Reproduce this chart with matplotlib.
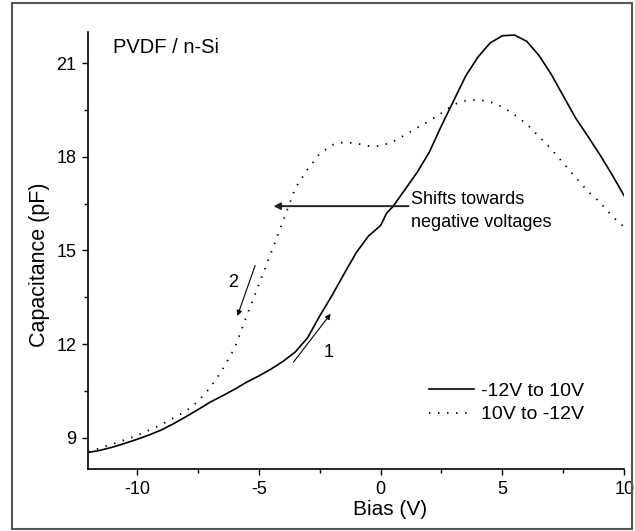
import matplotlib
matplotlib.use("Agg")
import matplotlib.pyplot as plt
from matplotlib.patches import Rectangle
from matplotlib.ticker import MultipleLocator

plt.rcParams['font.family'] = ['Liberation Sans', 'DejaVu Sans']
plt.rcParams['axes.unicode_minus'] = False

# Forward sweep (-12V to 10V)
bias_fwd = [-12, -11.5, -11, -10.5, -10, -9.5, -9, -8.5, -8, -7.5, -7, -6.5, -6,
            -5.5, -5, -4.5, -4, -3.5, -3, -2.5, -2, -1.5, -1, -0.5, 0, 0.25, 0.5,
            1, 1.5, 2, 2.5, 3, 3.5, 4, 4.5, 5, 5.5, 6, 6.5, 7, 7.5, 8, 8.5, 9,
            9.5, 10]
cap_fwd = [8.53, 8.6, 8.7, 8.82, 8.95, 9.09, 9.25, 9.45, 9.67, 9.9, 10.14, 10.34,
           10.55, 10.78, 10.98, 11.2, 11.45, 11.75, 12.2, 12.9, 13.55, 14.25,
           14.93, 15.46, 15.8, 16.2, 16.4, 16.95, 17.5, 18.15, 19.0, 19.8, 20.6,
           21.2, 21.65, 21.88, 21.9, 21.7, 21.25, 20.65, 19.95, 19.25, 18.67,
           18.07, 17.43, 16.75]

# Reverse sweep (10V to -12V)
bias_rev = [-12, -11, -10, -9, -8, -7.5, -7, -6.5, -6, -5.5, -5, -4.5, -4, -3.5,
            -3, -2.5, -2, -1.5, -1, -0.5, 0, 0.5, 1, 1.5, 2, 2.5, 3, 3.5, 4, 4.5,
            5, 5.5, 6, 6.5, 7, 7.5, 8, 8.5, 9, 9.5, 10]
cap_rev = [8.55, 8.8, 9.07, 9.42, 9.85, 10.16, 10.6, 11.17, 11.86, 12.9, 13.9,
           14.92, 15.95, 17.0, 17.6, 18.1, 18.38, 18.47, 18.43, 18.35, 18.35,
           18.48, 18.7, 18.93, 19.15, 19.4, 19.68, 19.8, 19.83, 19.76, 19.6,
           19.35, 19.05, 18.65, 18.25, 17.8, 17.35, 16.9, 16.55, 16.1, 15.75]

fig = plt.figure(figsize=(6.35, 5.31), dpi=100)
ax = fig.add_axes([0.139, 0.1168, 0.844, 0.823])

ax.plot(bias_fwd, cap_fwd, color='black', lw=1.2, label='-12V to 10V')
ax.plot(bias_rev, cap_rev, color='black', lw=1.3, linestyle=(0, (0.8, 4.2)),
        label='10V to -12V')

ax.set_xlim(-12, 10)
ax.set_ylim(8, 22)
ax.set_xticks([-10, -5, 0, 5, 10])
ax.set_yticks([9, 12, 15, 18, 21])
ax.xaxis.set_minor_locator(MultipleLocator(2.5))
ax.yaxis.set_minor_locator(MultipleLocator(1.5))
ax.tick_params(which='major', direction='out', length=4.5, width=1, labelsize=13,
               colors='black', pad=4)
ax.tick_params(which='minor', direction='out', length=3, width=1)
for s in ['top', 'right']:
    ax.spines[s].set_visible(False)
for s in ['left', 'bottom']:
    ax.spines[s].set_linewidth(1.2)

ax.set_xlabel('Bias (V)', fontsize=15)
ax.xaxis.set_label_coords(0.563, -0.071)
ax.set_ylabel('Capacitance (pF)', fontsize=15.5)
ax.yaxis.set_label_coords(-0.072, 0.467)

ax.text(-11, 21.5, 'PVDF / n-Si', fontsize=14.5, va='center', ha='left')

# shift arrow
ax.annotate('', xy=(-4.4, 16.42), xytext=(1.15, 16.42),
            arrowprops=dict(arrowstyle='-|>', color='#222222', lw=1.4,
                            mutation_scale=10, shrinkA=0, shrinkB=0))
ax.text(1.25, 16.64, 'Shifts towards', fontsize=13, va='center', ha='left')
ax.text(1.25, 15.9, 'negative voltages', fontsize=13, va='center', ha='left')

# sweep arrows
ax.annotate('', xy=(-2.05, 12.97), xytext=(-3.58, 11.42),
            arrowprops=dict(arrowstyle='-|>', color='black', lw=0.8,
                            mutation_scale=8, shrinkA=0, shrinkB=0))
ax.text(-2.15, 11.72, '1', fontsize=13, ha='center', va='center')
ax.annotate('', xy=(-5.88, 12.9), xytext=(-5.15, 14.52),
            arrowprops=dict(arrowstyle='-|>', color='black', lw=0.8,
                            mutation_scale=8, shrinkA=0, shrinkB=0))
ax.text(-6.05, 13.99, '2', fontsize=13, ha='center', va='center')

ax.legend(loc='lower right', bbox_to_anchor=(0.944, 0.082), frameon=False,
          fontsize=14, handlelength=2.3, handletextpad=0.4, labelspacing=0.3,
          borderpad=0)

fig.patches.append(Rectangle((12 / 635, 2 / 531), 620 / 635, 526 / 531,
                             transform=fig.transFigure, fill=False,
                             edgecolor='#555555', lw=1.5))

fig.savefig('out.png', dpi=100)
